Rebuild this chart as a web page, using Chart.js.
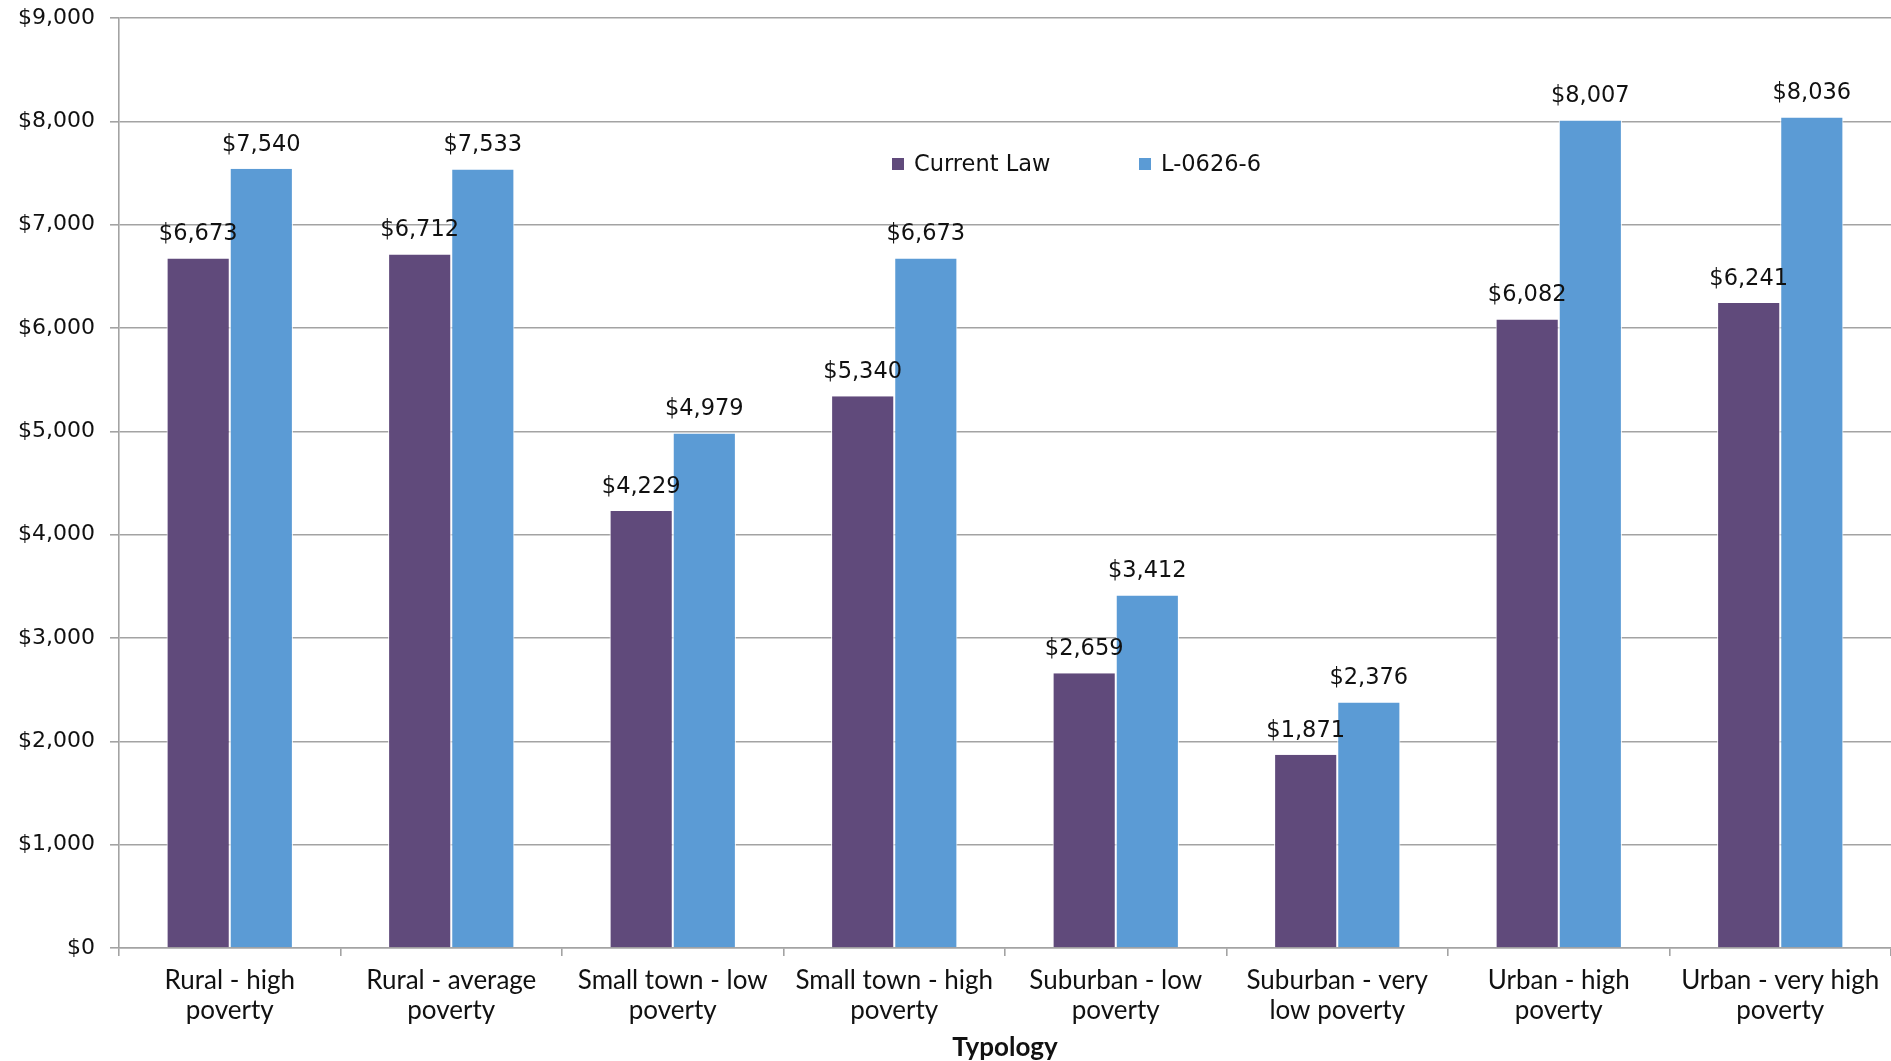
<!DOCTYPE html>
<html>
<head>
<meta charset="utf-8">
<script src="https://cdn.jsdelivr.net/npm/chart.js@4.4.1/dist/chart.umd.min.js"></script>
<style>
  html, body { margin: 0; padding: 0; background: #fff; }
  #wrap { width: 1891px; height: 1061px; position: relative; }
</style>
</head>
<body>
<div id="wrap"><canvas id="typologyChart" width="1891" height="1061"></canvas></div>
<script>
/* ---- data ---- */
const categories = [
  ['Rural - high', 'poverty'],
  ['Rural - average', 'poverty'],
  ['Small town - low', 'poverty'],
  ['Small town - high', 'poverty'],
  ['Suburban - low', 'poverty'],
  ['Suburban - very', 'low poverty'],
  ['Urban - high', 'poverty'],
  ['Urban - very high', 'poverty']
];
const seriesNames   = ['Current Law', 'L-0626-6'];
const currentLaw    = [6673, 6712, 4229, 5340, 2659, 1871, 6082, 6241];
const proposal      = [7540, 7533, 4979, 6673, 3412, 2376, 8007, 8036];
const yTicks        = [0, 1000, 2000, 3000, 4000, 5000, 6000, 7000, 8000, 9000];

const COLORS = ['#604a7b', '#5b9bd5'];
const GRID   = '#a3a3a3';
const VAL_FONT = '22.5px "DejaVu Sans"';

const money = v => '$' + Number(v).toLocaleString('en-US');

/* value labels above each bar */
const valueLabels = {
  id: 'valueLabels',
  afterDatasetsDraw(chart) {
    const ctx = chart.ctx;
    ctx.save();
    ctx.font = VAL_FONT;
    ctx.fillStyle = '#111';
    ctx.textAlign = 'center';
    ctx.textBaseline = 'middle';
    chart.data.datasets.forEach((ds, i) => {
      chart.getDatasetMeta(i).data.forEach((bar, j) => {
        ctx.fillText(money(ds.data[j]), bar.x, bar.y - 24);
      });
    });
    ctx.restore();
  }
};

/* legend inside plot area */
const innerLegend = {
  id: 'innerLegend',
  afterDraw(chart) {
    const ctx = chart.ctx;
    const xs = [892, 1139];
    const y  = 164;
    ctx.save();
    ctx.font = VAL_FONT;
    ctx.textBaseline = 'middle';
    ctx.textAlign = 'left';
    chart.data.datasets.forEach((ds, i) => {
      ctx.fillStyle = ds.backgroundColor;
      ctx.fillRect(xs[i], y - 6, 12, 12);
      ctx.fillStyle = '#111';
      ctx.fillText(ds.label, xs[i] + 22, y + 1);
    });
    ctx.restore();
  }
};

new Chart(document.getElementById('typologyChart'), {
  type: 'bar',
  data: {
    labels: categories,
    datasets: [
      { label: seriesNames[0], data: currentLaw, backgroundColor: COLORS[0] },
      { label: seriesNames[1], data: proposal,   backgroundColor: COLORS[1] }
    ].map(d => Object.assign(d, {
      borderColor: '#ffffff',
      borderWidth: { left: 1, right: 1, top: 0, bottom: 0 },
      borderSkipped: false,
      categoryPercentage: 0.57,
      barPercentage: 1.0
    }))
  },
  options: {
    responsive: false,
    animation: false,
    layout: { padding: { top: 18, right: 0, bottom: 0, left: 0 } },
    plugins: { legend: { display: false }, tooltip: { enabled: false } },
    scales: {
      y: {
        min: 0, max: 9000,
        afterBuildTicks: s => { s.ticks = yTicks.map(v => ({ value: v })); },
        afterFit: s => { s.width = 119; s.paddingTop = 0; s.paddingBottom = 0; },
        ticks: {
          callback: v => money(v),
          font: { family: 'DejaVu Sans', size: 22 },
          color: '#111',
          padding: 15
        },
        grid: { color: GRID, lineWidth: 1.6, tickLength: 9, tickColor: GRID },
        border: { color: GRID, width: 1.6 }
      },
      x: {
        afterFit: s => { s.height = 113; },
        ticks: {
          font: { family: 'Lato', size: 26, lineHeight: 1.15 },
          color: '#111',
          padding: 10,
          maxRotation: 0,
          autoSkip: false
        },
        grid: { drawOnChartArea: false, offset: true, tickLength: 8, color: GRID, lineWidth: 1.6 },
        border: { color: GRID, width: 1.6 },
        title: {
          display: true,
          text: 'Typology',
          font: { family: 'Lato', size: 26, weight: 'bold', lineHeight: 1.05 },
          color: '#111',
          padding: { top: 0, bottom: 0 }
        }
      }
    }
  },
  plugins: [valueLabels, innerLegend]
});
</script>
</body>
</html>
